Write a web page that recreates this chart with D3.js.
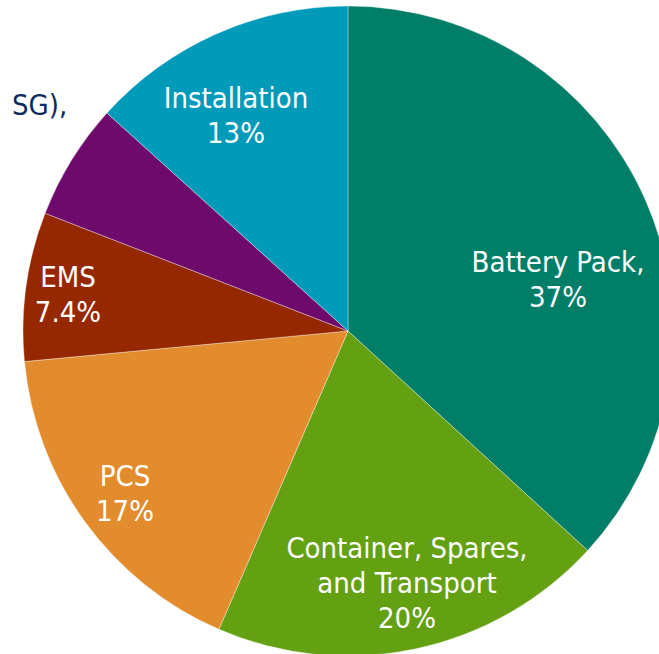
<!DOCTYPE html>
<html>
<head>
<meta charset="utf-8">
<script src="https://cdn.jsdelivr.net/npm/d3@7"></script>
<style>
  body { margin: 0; background: #fff; }
  svg { display: block; }
  text { font-family: "DejaVu Sans Condensed", "DejaVu Sans", sans-serif; font-stretch: condensed; }
</style>
</head>
<body>
<svg id="chart"></svg>
<script>
// slices, clockwise from 12 o'clock
var categories = ["Battery Pack", "Container, Spares, and Transport", "PCS", "EMS", "BMS", "Installation"];
var shares     = [36.8, 19.7, 17.0, 7.4, 5.8, 13.3];
var labels     = [["Battery Pack,", "37%"], ["Container, Spares,", "and Transport", "20%"], ["PCS", "17%"], ["EMS", "7.4%"], [], ["Installation", "13%"]];
var colors     = ["#007e67", "#63a012", "#e28c2e", "#962800", "#6d0a6b", "#019ab9"];

// label block centre, offset from pie centre (first baseline)
var labelPos = [[210, -59], [59, 227], [-223, 155], [-280, -44], [0, 0], [-112, -223]];

function pieChart(){
  var width  = 659;
  var height = 654;
  var cx = 348, cy = 331, radius = 325;
  var lineH = 35;

  var svg = d3.select('#chart')
              .attr('width', width)
              .attr('height', height);

  var data = categories.map(function(c, i){ return {name: c, value: shares[i], i: i}; });

  var pie = d3.pie()
              .sort(null)
              .value(function(d){ return d.value; });

  var arc = d3.arc()
              .innerRadius(0)
              .outerRadius(radius);

  var g = svg.append('g')
             .attr('transform', 'translate(' + cx + ',' + cy + ')');

  g.selectAll('path')
   .data(pie(data))
   .enter()
   .append('path')
   .attr('d', arc)
   .attr('fill', function(d){ return colors[d.data.i]; })
   .attr('stroke', 'rgba(255,255,255,0.45)')
   .attr('stroke-width', 0.8);

  var lab = g.selectAll('text.lab')
             .data(data)
             .enter()
             .append('text')
             .attr('class', 'lab')
             .attr('text-anchor', 'middle')
             .attr('fill', '#fff')
             .attr('font-size', 29)
             .attr('transform', function(d){ return 'translate(' + labelPos[d.i][0] + ',' + labelPos[d.i][1] + ')'; });

  lab.selectAll('tspan')
     .data(function(d){ return labels[d.i]; })
     .enter()
     .append('tspan')
     .attr('x', 0)
     .attr('y', function(d, j){ return j * lineH; })
     .text(function(d){ return d; });

  // cut-off callout text of the BMS slice
  svg.append('text')
     .attr('x', 12)
     .attr('y', 115)
     .attr('fill', '#0b2d5c')
     .attr('font-size', 29)
     .text('SG),');
}

pieChart();
</script>
</body>
</html>
